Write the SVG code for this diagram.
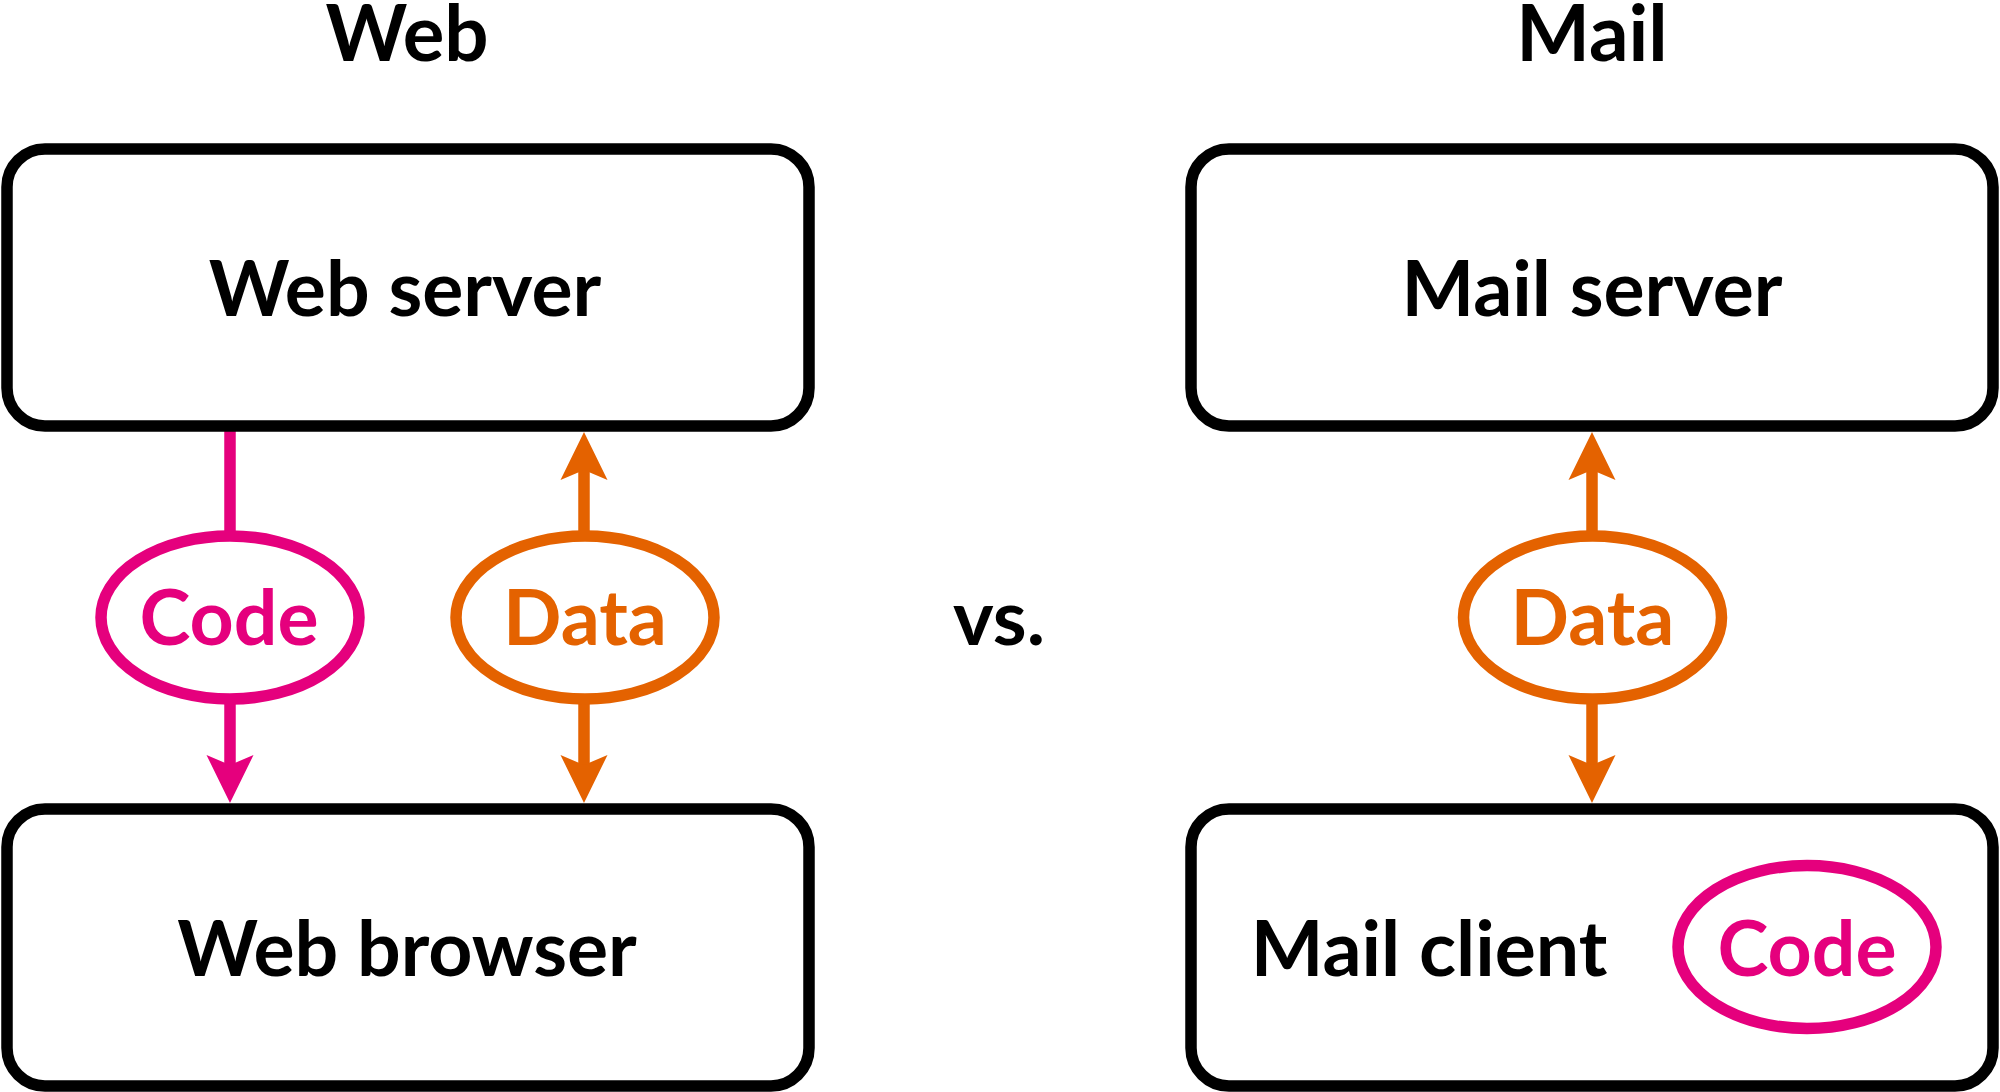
<svg xmlns="http://www.w3.org/2000/svg" xmlns:xlink="http://www.w3.org/1999/xlink" width="2000" height="1092" viewBox="0 0 2000 1092">
<style>
  .box { fill: #ffffff; stroke: #000000; stroke-width: 11.5; }
  .t { font-family: Lato, "Liberation Sans", sans-serif; font-weight: 700; font-size: 77px; text-anchor: middle; }
  .ttl { font-size: 78px; }
  .blk { fill: #000000; }
  .pk { fill: #e5007d; }
  .or { fill: #e46200; }
  .ellpk { fill: #ffffff; stroke: #e5007d; stroke-width: 11.5; }
  .ellor { fill: #ffffff; stroke: #e46200; stroke-width: 11.5; }
  .lpk { stroke: #e5007d; stroke-width: 11.5; fill: none; }
  .lor { stroke: #e46200; stroke-width: 11.5; fill: none; }
</style>
<defs>
  <path id="ah" d="M0,0 L-23.5,-48 L0,-38 L23.5,-48 Z"/>
</defs>
<rect width="2000" height="1092" fill="#ffffff"/>

<g id="title-web"><text class="t ttl blk" x="407" y="61">Web</text></g>
<g id="title-mail"><text class="t ttl blk" x="1592" y="61">Mail</text></g>
<g id="vs"><text class="t blk" x="999" y="645">vs.</text></g>

<g id="connectors">
  <line class="lpk" x1="230" y1="428" x2="230" y2="532"/>
  <line class="lpk" x1="230" y1="702" x2="230" y2="768"/>
  <use xlink:href="#ah" href="#ah" class="pk" transform="translate(230,803)"/>

  <line class="lor" x1="584" y1="467" x2="584" y2="532"/>
  <use xlink:href="#ah" href="#ah" class="or" transform="translate(584,432) rotate(180)"/>
  <line class="lor" x1="584" y1="702" x2="584" y2="768"/>
  <use xlink:href="#ah" href="#ah" class="or" transform="translate(584,803)"/>

  <line class="lor" x1="1592" y1="467" x2="1592" y2="532"/>
  <use xlink:href="#ah" href="#ah" class="or" transform="translate(1592,432) rotate(180)"/>
  <line class="lor" x1="1592" y1="702" x2="1592" y2="768"/>
  <use xlink:href="#ah" href="#ah" class="or" transform="translate(1592,803)"/>
</g>

<g id="web-server">
  <rect class="box" x="7" y="149" width="802" height="277" rx="38" ry="38"/>
  <text class="t blk" x="405" y="316">Web server</text>
</g>
<g id="web-browser">
  <rect class="box" x="7" y="809" width="802" height="277" rx="38" ry="38"/>
  <text class="t blk" x="407" y="976">Web browser</text>
</g>
<g id="mail-server">
  <rect class="box" x="1191" y="149" width="802" height="277" rx="38" ry="38"/>
  <text class="t blk" x="1592" y="316">Mail server</text>
</g>
<g id="mail-client">
  <rect class="box" x="1191" y="809" width="802" height="277" rx="38" ry="38"/>
  <text class="t blk" x="1429" y="976">Mail client</text>
</g>

<g id="code-web">
  <ellipse class="ellpk" cx="230" cy="617.5" rx="129" ry="81.5"/>
  <text class="t pk" x="229" y="645">Code</text>
</g>
<g id="data-web">
  <ellipse class="ellor" cx="585" cy="617.5" rx="129" ry="81.5"/>
  <text class="t or" x="585" y="645">Data</text>
</g>
<g id="data-mail">
  <ellipse class="ellor" cx="1592.5" cy="617.5" rx="129" ry="81.5"/>
  <text class="t or" x="1592.5" y="645">Data</text>
</g>
<g id="code-mail">
  <ellipse class="ellpk" cx="1807" cy="947" rx="129" ry="81.5"/>
  <text class="t pk" x="1807" y="976">Code</text>
</g>
</svg>
